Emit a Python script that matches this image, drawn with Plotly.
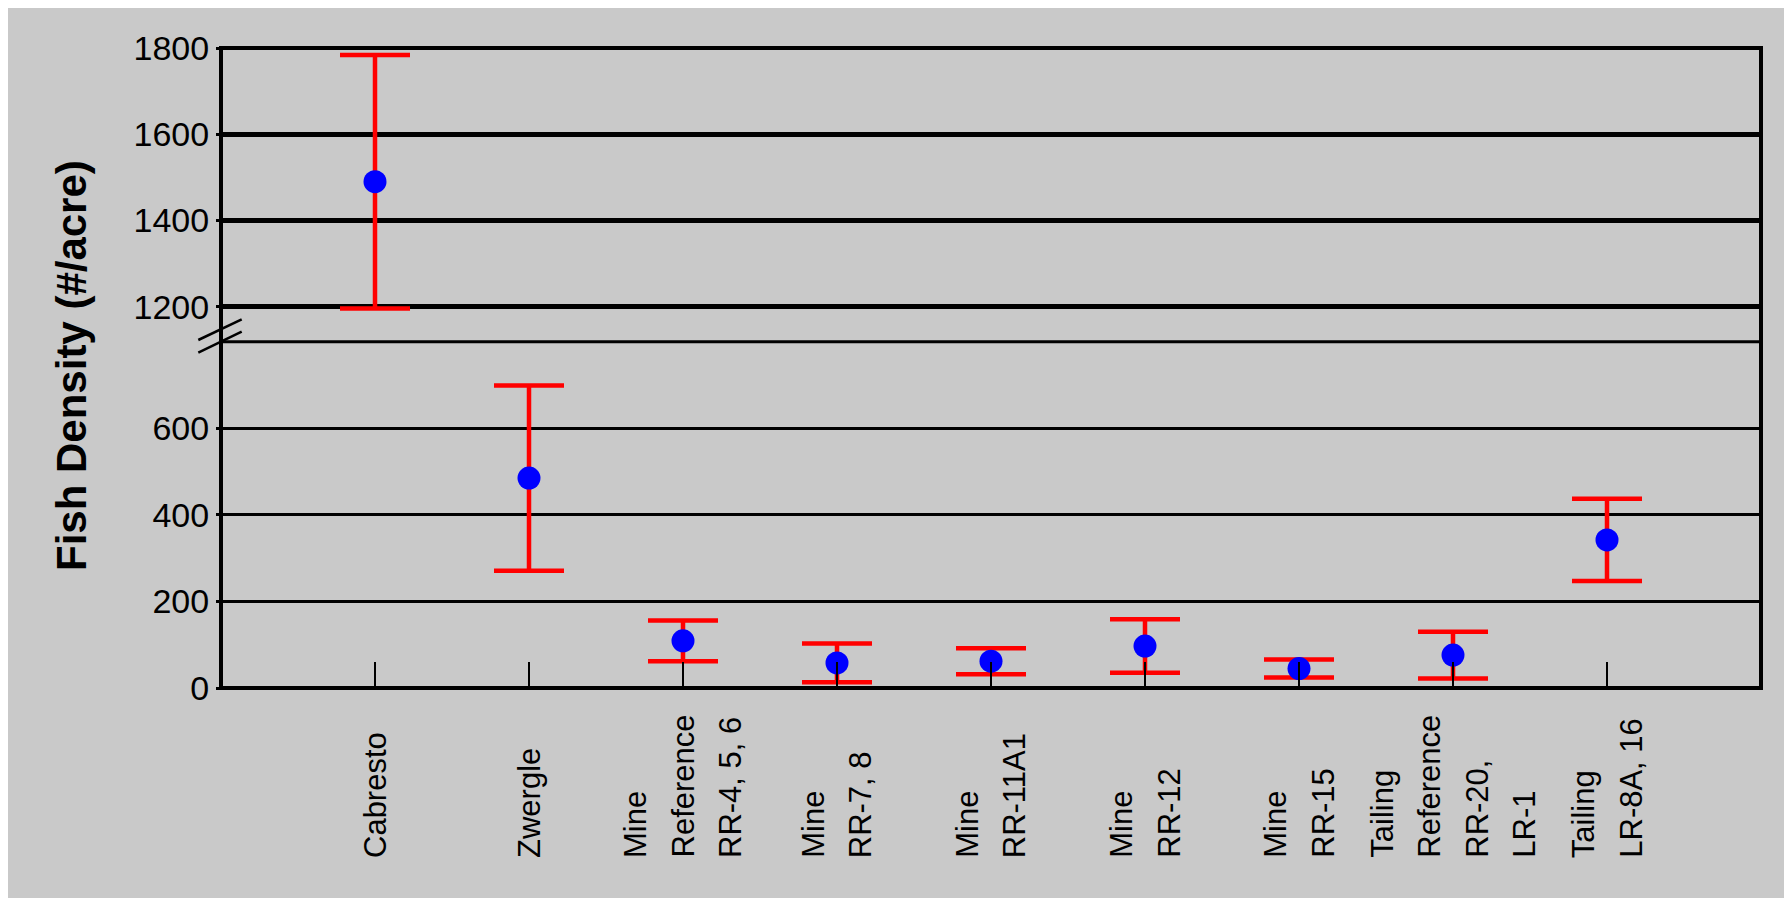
import plotly.graph_objects as go

# ---- data ----
site_lines = [
    ["Cabresto"],
    ["Zwergle"],
    ["Mine", "Reference", "RR-4, 5, 6"],
    ["Mine", "RR-7, 8"],
    ["Mine", "RR-11A1"],
    ["Mine", "RR-12"],
    ["Mine", "RR-15"],
    ["Tailing", "Reference", "RR-20,", "LR-1"],
    ["Tailing", "LR-8A, 16"],
]
site_pos = [1, 2, 3, 4, 5, 6, 7, 8, 9]
density_mean = [1490, 485, 109, 58, 62, 97, 45, 76, 342]
density_err = [294, 214, 47, 45, 30, 62, 21, 54, 95]

lower_ticks = [0, 200, 400, 600]
upper_ticks = [1200, 1400, 1600, 1800]
lower_range = [0, 800]
upper_range = [1185, 1800]

# ---- layout geometry (pixels, page is offset by the 8px body margin) ----
OFF = 8
W, H = 1792, 903
ML, MR, MT, MB = 221 - OFF, 31 + OFF, 48 - OFF, 215 + OFF
PW, PH = W - ML - MR, H - MT - MB

PX_PER_UNIT = (306.7 - 48.3) / 600.0


def px_x(px):
    return (px - OFF - ML) / PW


def px_y(py):
    return (H - MB - (py - OFF)) / PH


lower_dom = [0, px_y(341.7)]
upper_dom = [px_y(306.7 + (1200 - upper_range[0]) * PX_PER_UNIT), 1]

FONT = "Arial, Liberation Sans, sans-serif"
GRAY = "rgb(201,201,201)"

fig = go.Figure()

lo_x = [p for p, m in zip(site_pos, density_mean) if m <= lower_range[1]]
lo_y = [m for m in density_mean if m <= lower_range[1]]
lo_e = [e for m, e in zip(density_mean, density_err) if m <= lower_range[1]]
up_x = [p for p, m in zip(site_pos, density_mean) if m > lower_range[1]]
up_y = [m for m in density_mean if m > lower_range[1]]
up_e = [e for m, e in zip(density_mean, density_err) if m > lower_range[1]]

marker = dict(color="#0000ff", size=23)
err_style = dict(type="data", color="#ff0000", thickness=4.5, width=35)

fig.add_trace(go.Scatter(x=lo_x, y=lo_y, mode="markers", marker=marker,
                         error_y=dict(array=lo_e, **err_style),
                         xaxis="x", yaxis="y", showlegend=False))
fig.add_trace(go.Scatter(x=up_x, y=up_y, mode="markers", marker=marker,
                         error_y=dict(array=up_e, **err_style),
                         xaxis="x", yaxis="y2", showlegend=False))

shapes = []
# gray panel background
shapes.append(dict(type="rect", xref="paper", yref="paper", layer="below",
                   x0=px_x(OFF), x1=px_x(1787), y0=px_y(898), y1=px_y(OFF),
                   fillcolor=GRAY, line=dict(width=0)))
# frame around whole plot area
shapes.append(dict(type="rect", xref="paper", yref="paper",
                   x0=0, x1=1, y0=0, y1=1,
                   line=dict(color="black", width=4)))
# lower panel top border
shapes.append(dict(type="line", xref="paper", yref="paper",
                   x0=0, x1=1, y0=lower_dom[1], y1=lower_dom[1],
                   line=dict(color="black", width=3)))
# break marks
for (x0, y0, x1, y1) in [(198.3, 340, 241.7, 319.3), (198.3, 352.7, 241.7, 331.7)]:
    shapes.append(dict(type="line", xref="paper", yref="paper",
                       x0=px_x(x0), y0=px_y(y0), x1=px_x(x1), y1=px_y(y1),
                       line=dict(color="black", width=2.5)))

annotations = []
LINE_GAP = 47.5
label_bottom = px_y(860)
for pos, lines in zip(site_pos, site_lines):
    n = len(lines)
    for j, txt in enumerate(lines):
        annotations.append(dict(
            x=pos, xref="x", y=label_bottom, yref="paper",
            text=txt, showarrow=False, textangle=-90,
            xanchor="center", yanchor="bottom",
            xshift=(j - (n - 1) / 2) * LINE_GAP,
            font=dict(family=FONT, size=31, color="black"),
        ))
annotations.append(dict(
    x=px_x(71), xref="paper", y=px_y(366), yref="paper",
    text="<b>Fish Density (#/acre)</b>", showarrow=False, textangle=-90,
    xanchor="center", yanchor="middle",
    font=dict(family=FONT, size=42, color="black"),
))

fig.update_layout(
    width=W, height=H,
    margin=dict(l=ML, r=MR, t=MT, b=MB, pad=0),
    paper_bgcolor="white",
    plot_bgcolor="rgba(0,0,0,0)",
    showlegend=False,
    xaxis=dict(range=[0, 10], tickvals=site_pos, showticklabels=False,
               ticks="inside", ticklen=26, tickwidth=1.5, tickcolor="black",
               showgrid=False, zeroline=False, showline=False, fixedrange=True),
    yaxis=dict(domain=lower_dom, range=lower_range, tickvals=lower_ticks,
               ticks="outside", ticklen=4, tickwidth=3, tickcolor="black",
               showgrid=True, gridcolor="black", gridwidth=3,
               zeroline=False, showline=False,
               tickfont=dict(family=FONT, size=34, color="black")),
    yaxis2=dict(domain=upper_dom, range=upper_range, tickvals=upper_ticks,
                anchor="x",
                ticks="outside", ticklen=4, tickwidth=3, tickcolor="black",
                showgrid=True, gridcolor="black", gridwidth=4.5,
                zeroline=False, showline=False,
                tickfont=dict(family=FONT, size=34, color="black")),
    shapes=shapes,
    annotations=annotations,
)

fig.write_html("out.html")
